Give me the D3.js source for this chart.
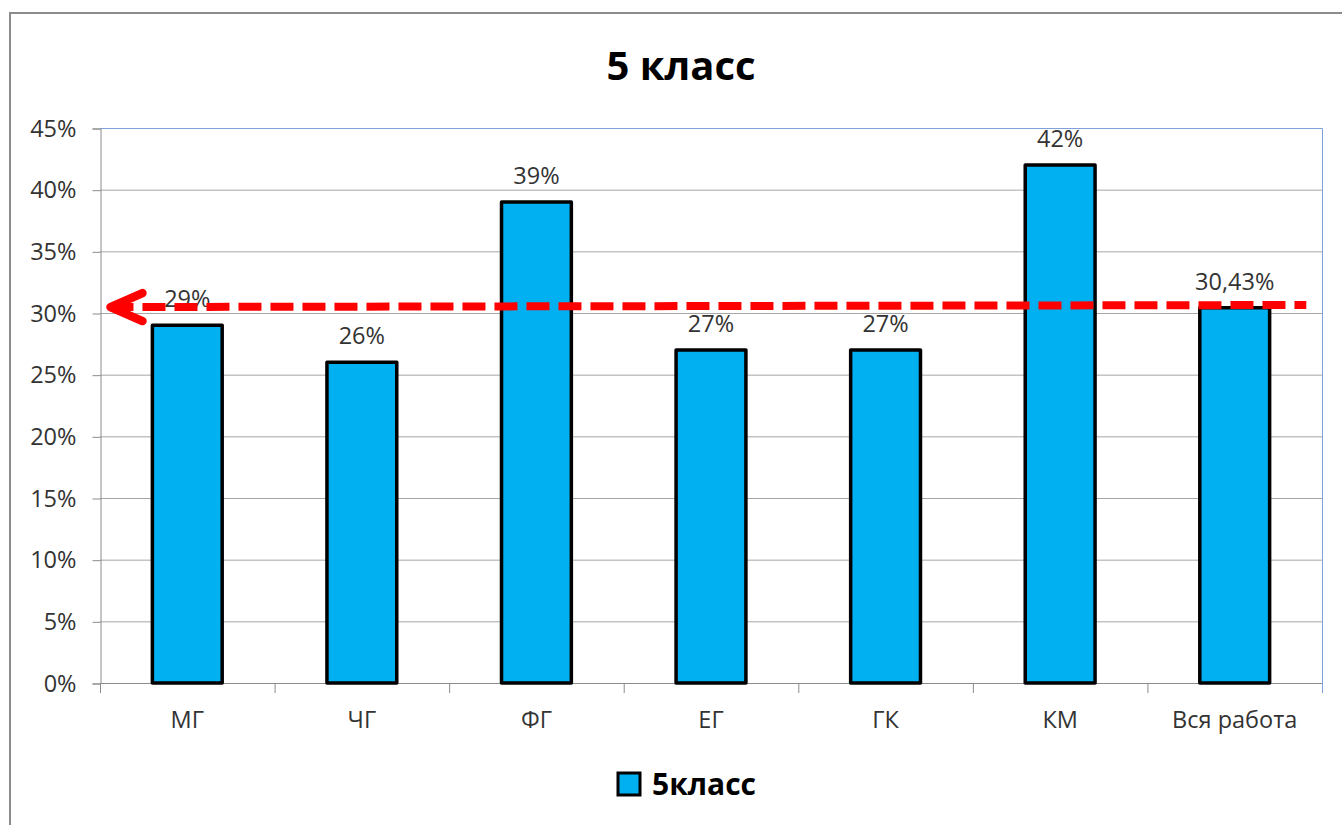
<!DOCTYPE html>
<html>
<head>
<meta charset="utf-8">
<script src="https://cdn.jsdelivr.net/npm/d3@7"></script>
<style>
    body { margin: 0; background: #fff; }
    svg { display: block; font-family: 'Open Sans', sans-serif; }
</style>
</head>
<body>
<svg id="chart"></svg>
<script>
const width = 1342;
const height = 825;

const categories = ['МГ', 'ЧГ', 'ФГ', 'ЕГ', 'ГК', 'КМ', 'Вся работа'];
const values = [0.29, 0.26, 0.39, 0.27, 0.27, 0.42, 0.3043];
const valueLabels = ['29%', '26%', '39%', '27%', '27%', '42%', '30,43%'];
const yTicks = [0, 0.05, 0.10, 0.15, 0.20, 0.25, 0.30, 0.35, 0.40, 0.45];
const yTickLabels = ['0%', '5%', '10%', '15%', '20%', '25%', '30%', '35%', '40%', '45%'];
// red dashed average line, position in category units -> value
const averageLine = [
    { pos: 0.06, value: 0.3048 },
    { pos: 6.91, value: 0.3065 }
];

const plot = { left: 100, right: 1322, top: 128, bottom: 683 };
const textColor = '#333';
const labelSize = '23.5px';

const svg = d3.select('#chart')
    .attr('width', width)
    .attr('height', height);

svg.append('rect')
    .attr('width', width)
    .attr('height', height)
    .attr('fill', '#fff');

// outer chart border
svg.append('rect')
    .attr('x', 10)
    .attr('y', 13)
    .attr('width', width + 10)
    .attr('height', height + 10)
    .attr('fill', 'none')
    .attr('stroke', '#8c8c8c')
    .attr('stroke-width', 2);

const xScale = d3.scaleBand()
    .domain(categories)
    .range([plot.left, plot.right])
    .paddingInner(0.6)
    .paddingOuter(0.3);

const posScale = d3.scaleLinear()
    .domain([0, categories.length])
    .range([plot.left, plot.right]);

const yScale = d3.scaleLinear()
    .domain([0, 0.45])
    .range([plot.bottom, plot.top]);

// gridlines
svg.append('g')
    .selectAll('line')
    .data(yTicks.slice(1, -1))
    .enter()
    .append('line')
    .attr('x1', plot.left)
    .attr('x2', plot.right)
    .attr('y1', d => yScale(d) + 0.5)
    .attr('y2', d => yScale(d) + 0.5)
    .attr('stroke', '#a6a6a6')
    .attr('stroke-width', 1);

// plot area top and right border (blue)
svg.append('path')
    .attr('d', `M${plot.left},${yScale(0.45) + 0.5}H${plot.right + 0.5}V${plot.bottom}`)
    .attr('fill', 'none')
    .attr('stroke', '#7fa3d6')
    .attr('stroke-width', 1);

// y axis
const yAxis = d3.axisLeft(yScale)
    .tickValues(yTicks)
    .tickSize(8)
    .tickPadding(16)
    .tickFormat((d, i) => yTickLabels[i]);

const yAxisGroup = svg.append('g')
    .attr('transform', `translate(${plot.left + 0.5}, 0.5)`)
    .call(yAxis);

yAxisGroup.select('.domain').attr('stroke', '#8c8c8c');
yAxisGroup.selectAll('.tick line').attr('stroke', '#8c8c8c');
yAxisGroup.selectAll('.tick text')
    .attr('fill', textColor)
    .style('font-size', labelSize)
    .style('font-family', "'Open Sans', sans-serif");

// x axis line + ticks on category boundaries
const boundaries = d3.range(categories.length + 1);

svg.append('line')
    .attr('x1', plot.left)
    .attr('x2', plot.right + 1)
    .attr('y1', plot.bottom + 0.5)
    .attr('y2', plot.bottom + 0.5)
    .attr('stroke', '#8c8c8c');

svg.append('g')
    .selectAll('line')
    .data(boundaries)
    .enter()
    .append('line')
    .attr('x1', d => posScale(d) + 0.5)
    .attr('x2', d => posScale(d) + 0.5)
    .attr('y1', plot.bottom)
    .attr('y2', plot.bottom + 10)
    .attr('stroke', (d, i) => i === categories.length ? '#7fa3d6' : '#8c8c8c');

svg.append('g')
    .selectAll('text')
    .data(categories)
    .enter()
    .append('text')
    .attr('x', d => xScale(d) + xScale.bandwidth() / 2)
    .attr('y', plot.bottom + 45)
    .attr('text-anchor', 'middle')
    .attr('fill', textColor)
    .style('font-size', labelSize)
    .text(d => d);

// bars
svg.append('g')
    .selectAll('rect')
    .data(values)
    .enter()
    .append('rect')
    .attr('x', (d, i) => xScale(categories[i]))
    .attr('y', d => yScale(d))
    .attr('width', xScale.bandwidth())
    .attr('height', d => yScale(0) - yScale(d))
    .attr('fill', '#00b0f0')
    .attr('stroke', '#000')
    .attr('stroke-width', 3.5)
    .attr('stroke-linejoin', 'round');

// value labels
svg.append('g')
    .selectAll('text')
    .data(values)
    .enter()
    .append('text')
    .attr('x', (d, i) => xScale(categories[i]) + xScale.bandwidth() / 2)
    .attr('y', d => yScale(d) - 18)
    .attr('text-anchor', 'middle')
    .attr('fill', textColor)
    .style('font-size', labelSize)
    .text((d, i) => valueLabels[i]);

// red dashed average line with arrow head
svg.append('defs')
    .append('marker')
    .attr('id', 'arrow')
    .attr('markerUnits', 'userSpaceOnUse')
    .attr('markerWidth', 50)
    .attr('markerHeight', 50)
    .attr('refX', 0)
    .attr('refY', 0)
    .attr('orient', 'auto')
    .style('overflow', 'visible')
    .append('path')
    .attr('d', 'M32,-14L0,0L32,14')
    .attr('fill', 'none')
    .attr('stroke', '#ff0000')
    .attr('stroke-width', 8.5)
    .attr('stroke-linecap', 'round')
    .attr('stroke-linejoin', 'round');

const line = d3.line()
    .x(d => posScale(d.pos))
    .y(d => yScale(d.value));

svg.append('path')
    .datum(averageLine)
    .attr('d', line)
    .attr('fill', 'none')
    .attr('stroke', '#ff0000')
    .attr('stroke-width', 8)
    .attr('stroke-dasharray', '23,9')
    .attr('marker-start', 'url(#arrow)');

// title
svg.append('text')
    .attr('x', 681)
    .attr('y', 80)
    .attr('text-anchor', 'middle')
    .attr('fill', '#000')
    .style('font-size', '40px')
    .style('font-weight', 'bold')
    .text('5 класс');

// legend
const legend = svg.append('g')
    .attr('transform', 'translate(618, 773)');

legend.append('rect')
    .attr('width', 22)
    .attr('height', 22)
    .attr('fill', '#00b0f0')
    .attr('stroke', '#000')
    .attr('stroke-width', 3);

legend.append('text')
    .attr('x', 34)
    .attr('y', 22)
    .attr('fill', '#000')
    .style('font-size', '30px')
    .style('font-weight', 'bold')
    .text('5класс');
</script>
</body>
</html>
